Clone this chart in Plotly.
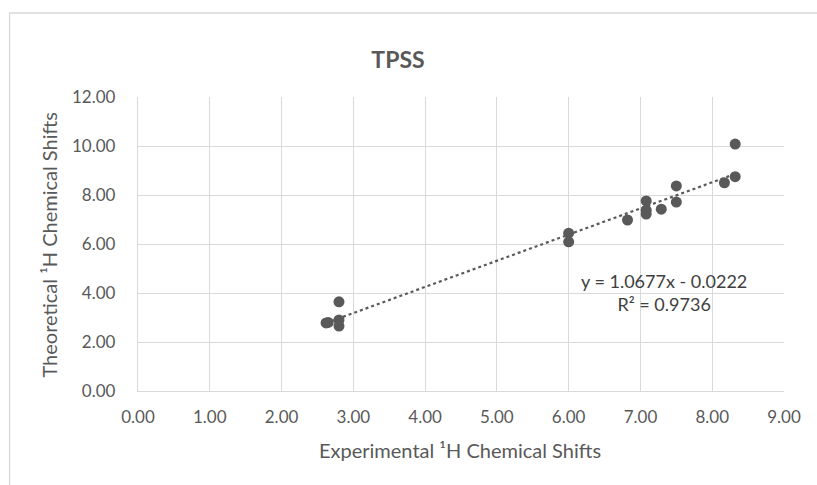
import plotly.graph_objects as go

# Data
exp_shifts = [2.62, 2.65, 2.80, 2.80, 2.80, 6.00, 6.00, 6.82, 7.08, 7.08, 7.08, 7.29, 7.50, 7.50, 8.17, 8.32, 8.32]
theo_shifts = [2.78, 2.80, 3.64, 2.90, 2.65, 6.44, 6.09, 6.98, 7.76, 7.38, 7.22, 7.42, 8.37, 7.71, 8.50, 8.75, 10.08]
slope = 1.0677
intercept = -0.0222
r_squared = 0.9736
x_ticks = [0, 1, 2, 3, 4, 5, 6, 7, 8, 9]
y_ticks = [0, 2, 4, 6, 8, 10, 12]

FONT = "Lato, 'Open Sans', sans-serif"
GRID = "#d9d9d9"
MARK = "#595959"

x0, x1 = min(exp_shifts), max(exp_shifts)
trend_x = [x0, x1]
trend_y = [slope * v + intercept for v in trend_x]

fig = go.Figure()
fig.add_trace(go.Scatter(
    x=trend_x, y=trend_y, mode="lines",
    line=dict(color=MARK, width=2.2, dash="dot"),
    hoverinfo="skip", showlegend=False,
))
fig.add_trace(go.Scatter(
    x=exp_shifts, y=theo_shifts, mode="markers",
    marker=dict(color=MARK, size=11, line=dict(width=0)),
    showlegend=False,
))

# plot area geometry (pixels)
L, R, T, B = 137.5, 784, 97, 391
W, H = 817, 485
pw, ph = R - L, B - T

def px(xp):
    return (xp - L) / pw

def py(yp):
    return (B - yp) / ph

fig.add_shape(type="rect", xref="paper", yref="paper",
              x0=px(9), x1=px(830), y0=py(13), y1=py(500),
              line=dict(color=GRID, width=1.3), fillcolor="rgba(0,0,0,0)", layer="below")

# trendline equation label
fig.add_annotation(
    x=px(664), y=py(292.5), xref="paper", yref="paper",
    text=f"y = {slope:.4f}x - {abs(intercept):.4f}<br>R² = {r_squared:.4f}",
    showarrow=False, align="center", xanchor="center", yanchor="middle",
    font=dict(family=FONT, size=18, color="#404040"),
)

# axis titles
fig.add_annotation(
    x=px(460), y=py(450), xref="paper", yref="paper",
    text="Experimental ¹H Chemical Shifts", showarrow=False,
    xanchor="center", yanchor="middle",
    font=dict(family=FONT, size=20, color=MARK),
)
fig.add_annotation(
    x=px(48), y=py(245), xref="paper", yref="paper",
    text="Theoretical ¹H Chemical Shifts", showarrow=False, textangle=-90,
    xanchor="center", yanchor="middle",
    font=dict(family=FONT, size=20, color=MARK),
)

fig.update_layout(
    width=W, height=H,
    margin=dict(l=L, r=W - R, t=T, b=H - B),
    paper_bgcolor="white", plot_bgcolor="white",
    title=dict(text="<b>TPSS</b>", x=398 / W, xanchor="center",
               y=1 - 60 / H, yanchor="middle",
               font=dict(family=FONT, size=23, color=MARK)),
    xaxis=dict(range=[0, 9], tickvals=x_ticks, tickformat=".2f",
               showgrid=True, gridcolor=GRID, gridwidth=1.3,
               zeroline=False, showline=True, linecolor=GRID, linewidth=1.3,
               ticks="", ticklabelstandoff=10,
               tickfont=dict(family=FONT, size=17, color=MARK)),
    yaxis=dict(range=[0, 12], tickvals=y_ticks, tickformat=".2f",
               showgrid=True, gridcolor=GRID, gridwidth=1.3,
               zeroline=False, showline=True, linecolor=GRID, linewidth=1.3,
               ticks="", ticklabelstandoff=18,
               tickfont=dict(family=FONT, size=17, color=MARK)),
)

fig.write_html("out.html")
